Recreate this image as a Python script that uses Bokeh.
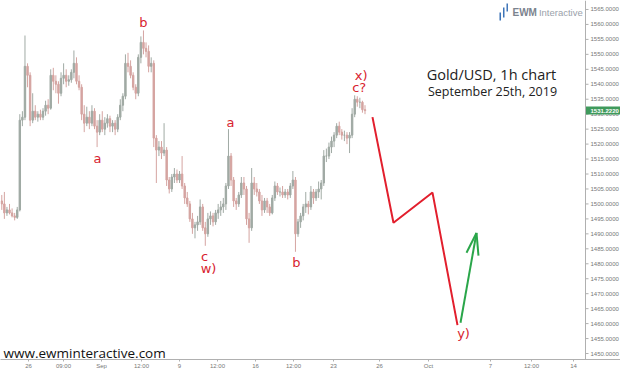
from bokeh.plotting import figure
from bokeh.models import (ColumnDataSource, LinearAxis, FixedTicker, Range1d,
                          Label, Span)
from bokeh.embed import file_html
from bokeh.resources import INLINE
from bokeh.core.properties import value

# ---- Gold/USD, 4-hour bars (x measured in trading hours) ----
BAR_HOURS = 4
first_open = 1501.0
close = [
    1500, 1497, 1498, 1497, 1496, 1495.5, 1498, 1528, 1529, 1546,
    1543, 1528, 1531, 1529, 1530, 1529, 1531, 1533, 1532, 1543,
    1541, 1540, 1537, 1542, 1543, 1541, 1541.5, 1544, 1547, 1541,
    1539, 1530, 1527, 1529, 1527, 1531, 1526, 1524, 1528, 1525,
    1527, 1528.5, 1526, 1527, 1525, 1529, 1533, 1536, 1547, 1546,
    1543, 1539, 1537, 1549, 1554, 1552, 1551, 1546, 1547, 1522,
    1518, 1519, 1517, 1518, 1508, 1505, 1509, 1510, 1508, 1510,
    1506, 1502, 1500, 1495, 1492, 1493, 1494, 1499, 1492, 1490,
    1495, 1496, 1494, 1497, 1498, 1499, 1500, 1506, 1516, 1508,
    1501, 1500, 1503, 1507, 1505, 1495, 1492, 1507, 1505, 1504,
    1501, 1498, 1501, 1499, 1497, 1502, 1506, 1504, 1504, 1503,
    1504, 1503, 1506, 1508, 1490, 1494, 1496, 1499, 1500, 1499,
    1504, 1502, 1504, 1505, 1507, 1516, 1516, 1519, 1521, 1523,
    1526, 1524, 1523, 1523, 1522, 1523, 1530, 1535, 1534, 1534,
    1531.5, 1531.2]
high = [
    1503, 1504, 1499, 1500, 1498.5, 1497, 1499, 1530, 1531, 1556.3,
    1547, 1544, 1537, 1533, 1531, 1531.5, 1532, 1534.5, 1535, 1545,
    1545.5, 1543, 1541, 1544, 1547, 1545, 1543, 1545, 1551.3, 1549,
    1543, 1540, 1533, 1532.5, 1531, 1533, 1532, 1528, 1530, 1531,
    1529, 1530, 1529.5, 1528, 1528, 1530, 1535, 1537, 1550, 1550.5,
    1548, 1544, 1540, 1550, 1556, 1558, 1554, 1553, 1549, 1548,
    1523, 1521, 1521, 1527, 1519, 1509, 1510, 1512, 1511.5, 1511,
    1516, 1507, 1504, 1501, 1497, 1494, 1496, 1501.5, 1500, 1494,
    1497, 1497.5, 1497, 1498, 1500, 1501, 1502, 1507, 1525, 1517,
    1509, 1502, 1504, 1509, 1509, 1506, 1497, 1512, 1509, 1507,
    1505, 1503, 1502, 1502, 1500, 1503, 1507.5, 1507, 1505.5, 1506,
    1505, 1505, 1507, 1511, 1509, 1495, 1497, 1500, 1504, 1501,
    1506, 1505, 1505, 1507.5, 1508, 1518, 1518.5, 1520.5, 1522.5, 1524,
    1527, 1527.5, 1525, 1524.5, 1524, 1524, 1532, 1536.3, 1536, 1535.5,
    1534.5, 1533]
low = [
    1498, 1495, 1496, 1496.5, 1495.5, 1494.5, 1495, 1497.5, 1526, 1528,
    1539, 1526, 1527, 1528, 1527.5, 1528, 1528, 1529.5, 1530, 1531.5,
    1538, 1537, 1533.5, 1536, 1540, 1539, 1539.5, 1540.5, 1542, 1540,
    1538, 1528, 1524, 1526, 1525, 1526, 1525, 1519, 1523, 1524,
    1523, 1525.5, 1524, 1524, 1523, 1524, 1528, 1531, 1535, 1544,
    1542, 1538, 1535, 1536, 1547, 1550, 1549, 1544, 1544, 1519,
    1507, 1516, 1515, 1516, 1506, 1503.5, 1504, 1507, 1507, 1507,
    1505, 1500, 1499, 1494, 1490, 1488.5, 1491, 1493, 1491, 1486,
    1489, 1493, 1492.5, 1493, 1495, 1496, 1497, 1498, 1505, 1506,
    1499, 1498, 1499, 1502, 1503, 1493, 1487, 1491, 1503, 1502.5,
    1500, 1496, 1497, 1497, 1496, 1496.5, 1501, 1503, 1502.5, 1502,
    1502, 1501.5, 1502, 1505, 1484, 1489, 1492, 1494.5, 1497, 1496.5,
    1498, 1500, 1501, 1502, 1501.5, 1506, 1514, 1515, 1517, 1519,
    1522, 1523, 1521.5, 1521, 1520, 1517, 1522, 1529, 1532.5, 1532,
    1530.5, 1530]
last_price = 1531.2220

# Elliott-wave labels
wave_text = ["b", "a", "a", "c", "w)", "b", "x)", "c?", "y)"]
wave_h = [222.0, 150.6, 357.1, 316.8, 323.0, 459.6, 560.0, 557.0, 719.0]
wave_v = [1560.5, 1515.3, 1527.3, 1482.5, 1478.5, 1480.5, 1543.0, 1538.8, 1456.7]

# projected path
proj_red_h = [577.6, 610.2, 670.8, 709.6]
proj_red_v = [1529.0, 1493.7, 1503.8, 1459.5]
proj_green_h = [714.3, 739.1]
proj_green_v = [1460.3, 1490.3]
arrow_barb_h = [723.6, 742.2]
arrow_barb_v = [1483.7, 1482.7]

# axes
x_tick_pos = [43.5, 97.8, 156.8, 218.9, 278.0, 337.0, 396.0, 455.0,
              517.1, 588.5, 664.6, 760.9, 824.5, 889.8]
x_tick_text = ["26", "09:00", "Sep", "12:00", "9", "12:00", "16", "12:00",
               "23", "26", "Oct", "7", "12:00", "14"]
y_ticks = list(range(1450, 1570, 5))

# layout of the hour / price scales
W, H, AXIS_H = 620, 371, 11
PX_PER_HOUR, PX_PER_USD, TOP_USD = 0.644, 3.0, 1568.0
X_MAX = W / PX_PER_HOUR
PRICE_AXIS_X = 585 / PX_PER_HOUR
TICK_LEN = 3 / PX_PER_HOUR
LABEL_GAP = 5 / PX_PER_HOUR
Y_MIN = TOP_USD - (H - AXIS_H) / PX_PER_USD

opens = [first_open] + close[:-1]
xs = [BAR_HOURS * i + BAR_HOURS / 2 for i in range(len(close))]
UP, DOWN = "#a0aaa4", "#d5a4a1"
colors = [UP if c >= o else DOWN for o, c in zip(opens, close)]
bars = ColumnDataSource(dict(x=xs, open=opens, close=close, high=high,
                             low=low, color=colors))

p = figure(width=W, height=H, output_backend="svg", toolbar_location=None,
           x_axis_type=None, y_axis_type=None,
           x_range=Range1d(0, X_MAX), y_range=Range1d(Y_MIN, TOP_USD),
           min_border_left=0, min_border_top=0, min_border_right=0,
           min_border_bottom=AXIS_H)
p.outline_line_color = None
p.background_fill_color = "white"

p.segment(x0="x", y0="low", x1="x", y1="high", color="color",
          line_width=1, source=bars)
p.vbar(x="x", width=2.2, top="open", bottom="close", fill_color="color",
       line_color="color", source=bars)

RED = "#e21f2d"
GREEN = "#2aa64a"
p.line(proj_red_h, proj_red_v, line_color=RED, line_width=2)
p.line(proj_green_h, proj_green_v, line_color=GREEN, line_width=2)
p.segment(x0=arrow_barb_h, y0=arrow_barb_v,
          x1=[proj_green_h[-1]] * 2, y1=[proj_green_v[-1]] * 2,
          line_color=GREEN, line_width=2)

p.text(x=wave_h, y=wave_v, text=wave_text, text_color="#d8232f",
       text_font=value("DejaVu Sans"), text_font_size="13px",
       text_align="center", text_baseline="middle")

# headings and branding
p.add_layout(Label(x=762.4, y=1543.3, text="Gold/USD, 1h chart",
                   text_font="Open Sans", text_font_size="14.5px",
                   text_color="#222222", text_align="center",
                   text_baseline="middle"))
p.add_layout(Label(x=764.0, y=1537.6, text="September 25th, 2019",
                   text_font="Open Sans", text_font_size="12.5px",
                   text_color="#222222", text_align="center",
                   text_baseline="middle"))
p.add_layout(Label(x=4.7, y=1450.3, text="www.ewminteractive.com",
                   text_font="Open Sans", text_font_size="13.5px",
                   text_color="#111111", text_align="left",
                   text_baseline="middle"))
p.add_layout(Label(x=795.0, y=1564.0, text="EWM", text_font="Liberation Sans",
                   text_font_style="bold", text_font_size="10px",
                   text_color="#7b838e", text_baseline="middle"))
p.add_layout(Label(x=836.0, y=1564.0, text="Interactive",
                   text_font="Liberation Sans", text_font_size="9.5px",
                   text_color="#9aa1aa", text_baseline="middle"))
logo_left = [774.8, 780.3, 785.7]
logo_right = [777.2, 782.6, 788.0]
logo_bottom = [1561.3, 1562.3, 1564.3]
logo_top = [1564.0, 1565.7, 1567.0]
p.quad(left=logo_left, right=logo_right, bottom=logo_bottom, top=logo_top,
       fill_color="#3d74b8", line_color=None)

# bottom time axis
xaxis = LinearAxis(ticker=FixedTicker(ticks=x_tick_pos),
                   major_label_overrides={t: s for t, s in zip(x_tick_pos, x_tick_text)},
                   major_label_text_font_size="6px",
                   major_label_text_color="#777777",
                   major_label_standoff=1, major_tick_out=2, major_tick_in=0,
                   minor_tick_out=0, minor_tick_in=0,
                   axis_line_color="#b0b0b0", major_tick_line_color="#b0b0b0")
p.add_layout(xaxis, "below")

# price scale on the right edge
p.add_layout(Span(location=PRICE_AXIS_X, dimension="height",
                  line_color="#b0b0b0", line_width=1))
p.segment(x0=[PRICE_AXIS_X] * len(y_ticks), y0=y_ticks,
          x1=[PRICE_AXIS_X + TICK_LEN] * len(y_ticks), y1=y_ticks,
          line_color="#b0b0b0", line_width=1)
p.text(x=[PRICE_AXIS_X + LABEL_GAP] * len(y_ticks), y=y_ticks,
       text=[f"{t:.4f}" for t in y_ticks], text_color="#777777",
       text_font=value("Liberation Sans"), text_font_size="6px",
       text_align="left", text_baseline="middle")
p.rect(x=[(PRICE_AXIS_X + X_MAX) / 2], y=[last_price],
       width=X_MAX - PRICE_AXIS_X, height=2.7,
       fill_color="#3f9a5c", line_color=None)
p.text(x=[PRICE_AXIS_X + LABEL_GAP], y=[last_price],
       text=[f"{last_price:.4f}"], text_color="white",
       text_font=value("Liberation Sans"), text_font_size="6px",
       text_font_style="bold", text_align="left", text_baseline="middle")

open("out.html", "w").write(file_html(p, INLINE))
